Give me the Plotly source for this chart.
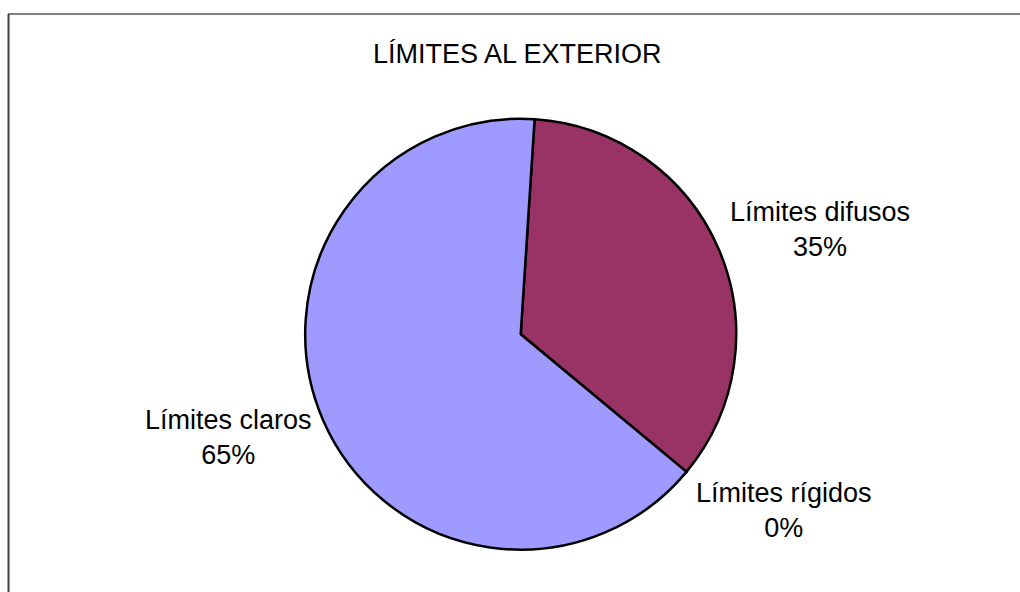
import plotly.graph_objects as go

W, H = 1020, 592

labels = ["Límites difusos", "Límites rígidos", "Límites claros"]
values = [35, 0, 65]
colors = ["#993366", "#FFFFCC", "#9E9AFF"]
title_text = "LÍMITES AL EXTERIOR"

# label positions in pixels (center x, middle y)
label_pos = {
    "Límites difusos": (820, 230),
    "Límites rígidos": (784, 510),
    "Límites claros": (228, 437),
}

total = sum(values)

fig = go.Figure()
fig.add_trace(go.Pie(
    labels=labels,
    values=values,
    sort=False,
    direction="clockwise",
    rotation=3.7,
    marker=dict(colors=colors, line=dict(color="#000000", width=2.5)),
    textinfo="none",
    hoverinfo="label+percent",
    showlegend=False,
    domain=dict(x=[305.2 / W, 736.2 / W], y=[1 - 549.7 / H, 1 - 118.7 / H]),
))

annotations = []
for lab, val in zip(labels, values):
    px, py = label_pos[lab]
    pct = round(100 * val / total)
    annotations.append(dict(
        x=px / W, y=1 - py / H, xref="paper", yref="paper",
        xanchor="center", yanchor="middle",
        text=f"{lab}<br>{pct}%", showarrow=False,
        font=dict(family="Liberation Sans, Arial, sans-serif", size=27, color="#000000"),
        align="center",
    ))
annotations.append(dict(
    x=517.5 / W, y=1 - 54 / H, xref="paper", yref="paper",
    xanchor="center", yanchor="middle",
    text=title_text, showarrow=False,
    font=dict(family="Liberation Sans, Arial, sans-serif", size=27, color="#000000"),
))

shapes = [
    dict(type="line", xref="paper", yref="paper", x0=8 / W, x1=1.0, y0=1 - 14 / H, y1=1 - 14 / H,
         line=dict(color="#808080", width=2)),
    dict(type="line", xref="paper", yref="paper", x0=8.5 / W, x1=8.5 / W, y0=1 - 14 / H, y1=0,
         line=dict(color="#404040", width=2)),
]

fig.update_layout(
    width=W, height=H,
    margin=dict(l=0, r=0, t=0, b=0),
    paper_bgcolor="#FFFFFF",
    plot_bgcolor="#FFFFFF",
    annotations=annotations,
    shapes=shapes,
)

fig.write_html(
    "out.html",
    config={"displayModeBar": False},
    post_script="document.body.style.margin='0';document.body.style.overflow='hidden';",
)
